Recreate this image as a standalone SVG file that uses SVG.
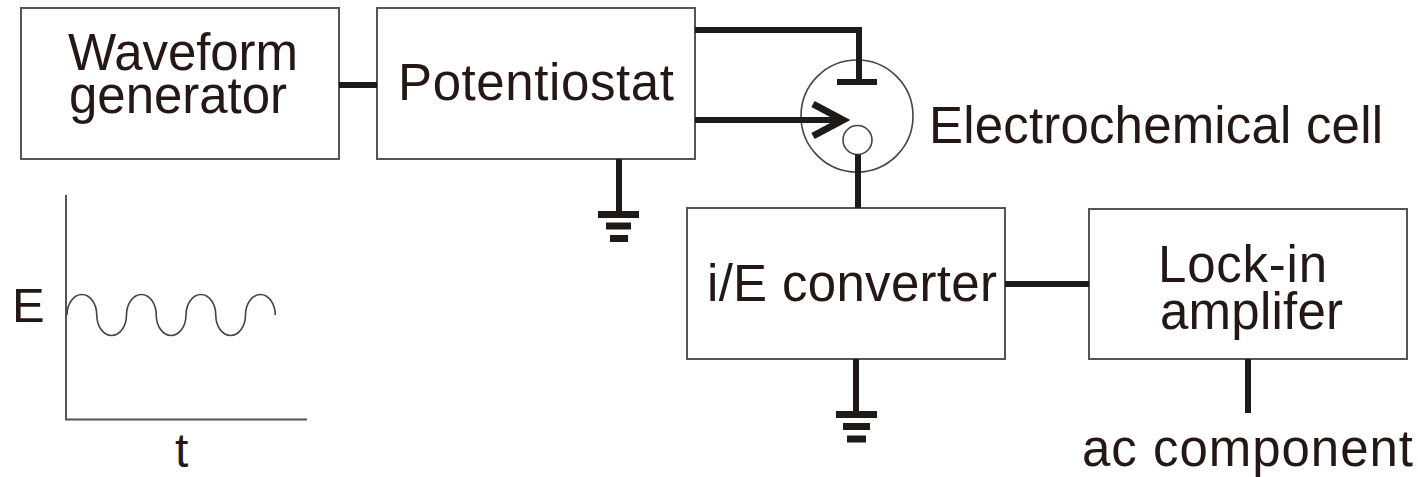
<svg xmlns="http://www.w3.org/2000/svg" width="1418" height="477" viewBox="0 0 1418 477">
<style>
.box{fill:#fff;stroke:#555;stroke-width:2}
.wire{fill:none;stroke:#1e1a17;stroke-width:6;stroke-linecap:butt;stroke-linejoin:miter}
.bar{fill:none;stroke:#1e1a17;stroke-width:7}
.thin{fill:none;stroke:#444;stroke-width:1.6}
.axis{fill:none;stroke:#555;stroke-width:2}
.lbl{font-family:"Liberation Sans",Arial,sans-serif;font-size:51px;fill:#231815}
</style>
<rect width="1418" height="477" fill="#fff"/>
<g id="waveform-generator">
<rect class="box" x="21" y="8" width="318" height="151"/>
<text class="lbl" x="68" y="70" textLength="230">Waveform</text>
<text class="lbl" x="69" y="113" textLength="218">generator</text>
</g>
<g id="potentiostat">
<rect class="box" x="377" y="8" width="318" height="151"/>
<text class="lbl" x="398" y="100" textLength="276">Potentiostat</text>
</g>
<g id="electrochemical-cell">
<circle class="thin" cx="857" cy="116" r="56"/>
<circle class="thin" cx="857.5" cy="140" r="14.5"/>
<line class="wire" x1="837" y1="82" x2="877" y2="82"/>
<text class="lbl" x="929" y="143" textLength="454">Electrochemical cell</text>
</g>
<g id="ie-converter">
<rect class="box" x="687" y="208" width="318" height="151"/>
<text class="lbl" x="707" y="301" textLength="290">i/E converter</text>
</g>
<g id="lock-in-amplifier">
<rect class="box" x="1089" y="209" width="318" height="150"/>
<text class="lbl" x="1158" y="282" textLength="169">Lock-in</text>
<text class="lbl" x="1160" y="329" textLength="183">amplifer</text>
</g>
<g id="ac-component">
<text class="lbl" x="1082" y="466" textLength="331">ac component</text>
</g>
<g id="ground-1">
<line class="wire" x1="619" y1="159" x2="619" y2="214"/>
<line class="bar" x1="598" y1="214.5" x2="639" y2="214.5"/>
<line class="bar" x1="606" y1="226" x2="631" y2="226"/>
<line class="bar" x1="610" y1="238.5" x2="628" y2="238.5"/>
</g>
<g id="ground-2">
<line class="wire" x1="856" y1="359" x2="856" y2="414"/>
<line class="bar" x1="836" y1="414.5" x2="877" y2="414.5"/>
<line class="bar" x1="843" y1="426.5" x2="870" y2="426.5"/>
<line class="bar" x1="847" y1="439" x2="866" y2="439"/>
</g>
<g id="waveform-plot">
<path class="axis" d="M66 195 V419.5 H307"/>
<path class="thin" d="M67 315 C67 303.7 73.7 294.5 81.9 294.5 C90.1 294.5 96.75 303.7 96.75 315 C96.75 326.3 103.4 335.5 111.6 335.5 C119.8 335.5 126.5 326.3 126.5 315 C126.5 303.7 133.2 294.5 141.4 294.5 C149.6 294.5 156.25 303.7 156.25 315 C156.25 326.3 162.9 335.5 171.1 335.5 C179.3 335.5 186 326.3 186 315 C186 303.7 192.7 294.5 200.9 294.5 C209.1 294.5 215.75 303.7 215.75 315 C215.75 326.3 222.4 335.5 230.6 335.5 C238.8 335.5 245.5 326.3 245.5 315 C245.5 303.7 252.2 294.5 260.4 294.5 C268.6 294.5 275.25 303.7 275.25 315"/>
<text class="lbl" x="12" y="322" style="font-size:49px">E</text>
<text class="lbl" x="175" y="467" style="font-size:48px">t</text>
</g>
<g id="connectors">
<line class="wire" x1="339" y1="85" x2="377" y2="85"/>
<polyline class="wire" points="695,30 859,30 859,82"/>
<line class="wire" x1="695" y1="120" x2="842" y2="120"/>
<polyline class="bar" points="813,104 843,120 813,136"/>
<line class="wire" x1="858" y1="154.5" x2="858" y2="208"/>
<line class="wire" x1="1005" y1="284" x2="1089" y2="284"/>
<line class="wire" x1="1248" y1="359" x2="1248" y2="413"/>
</g>
</svg>
